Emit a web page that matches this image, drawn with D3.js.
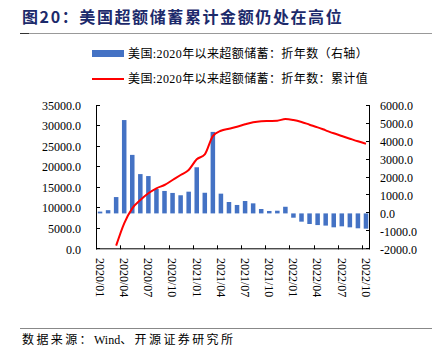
<!DOCTYPE html>
<html><head><meta charset="utf-8">
<script src="https://cdn.jsdelivr.net/npm/d3@7"></script>
<style>
body{margin:0;background:#fff;}
svg{display:block;}
</style></head>
<body><svg id="c" width="441" height="360"></svg>
<script>
const months = ["2020/01","2020/02","2020/03","2020/04","2020/05","2020/06","2020/07","2020/08","2020/09","2020/10","2020/11","2020/12",
"2021/01","2021/02","2021/03","2021/04","2021/05","2021/06","2021/07","2021/08","2021/09","2021/10","2021/11","2021/12",
"2022/01","2022/02","2022/03","2022/04","2022/05","2022/06","2022/07","2022/08","2022/09","2022/10"];
// 折年数 (right axis)
const barValues = [100,180,910,5200,3260,2190,2080,1360,1250,1140,1010,1210,
2570,1150,4540,1100,635,470,690,560,245,135,150,370,
-240,-460,-590,-650,-680,-775,-720,-775,-830,-850];
// 累计值 (left axis), null where not shown
const lineValues = [null,null,880,6340,9990,12000,13650,14870,15670,16890,18110,19330,
21930,23150,27610,28900,29400,29880,30460,30950,31200,31270,31340,31760,
31510,31030,30370,29730,29000,28270,27610,26960,26320,25740];
const leftTicks = [0,5000,10000,15000,20000,25000,30000,35000];
const rightTicks = [-2000,-1000,0,1000,2000,3000,4000,5000,6000];
const xLabels = months.filter((m,i)=>i%3===0);
const title = "图20：美国超额储蓄累计金额仍处在高位";
const legendBar = "美国:2020年以来超额储蓄：折年数（右轴）";
const legendLine = "美国:2020年以来超额储蓄：折年数：累计值";
const sourceParts = ["数据来源：", "Wind", "、开源证券研究所"];

const svg = d3.select("#c");
const serif = "'Liberation Serif','Noto Sans CJK SC',serif";
const L = 96, R = 370, T = 105.7, B = 249.3;

const x = d3.scaleBand().domain(months).range([L,R]).paddingInner(0.44).paddingOuter(0.22);
const yL = d3.scaleLinear().domain([0,35000]).range([B,T]);
const yR = d3.scaleLinear().domain([-2000,6000]).range([B,T]);
const step = x.step();

// title
svg.append("text").attr("x",22).attr("y",23).text(title)
  .attr("font-family","'Noto Sans CJK SC',sans-serif").attr("font-weight","bold")
  .attr("font-size",16).attr("fill","#1c2a6b").attr("letter-spacing",1.6);
svg.append("line").attr("x1",20).attr("x2",432).attr("y1",33.5).attr("y2",33.5).attr("stroke","#999").attr("stroke-width",1);
svg.append("line").attr("x1",20).attr("x2",29).attr("y1",33.5).attr("y2",33.5).attr("stroke","#333").attr("stroke-width",1);

// legend
svg.append("rect").attr("x",92).attr("y",50).attr("width",32).attr("height",7).attr("fill","#4472C4");
svg.append("text").attr("x",128).attr("y",58).text(legendBar)
  .attr("font-family",serif).attr("font-size",12).attr("fill","#000").attr("letter-spacing",0.4);
svg.append("line").attr("x1",92).attr("x2",124).attr("y1",79).attr("y2",79).attr("stroke","#ff0000").attr("stroke-width",2);
svg.append("text").attr("x",128).attr("y",83).text(legendLine)
  .attr("font-family",serif).attr("font-size",12).attr("fill","#000").attr("letter-spacing",0.4);

// bars
svg.append("g").selectAll("rect").data(months).join("rect")
  .attr("x",(d)=>x(d)).attr("width",x.bandwidth())
  .attr("y",(d,i)=>yR(Math.max(0,barValues[i])))
  .attr("height",(d,i)=>Math.abs(yR(barValues[i])-yR(0)))
  .attr("fill","#4472C4");

// line
const line = d3.line().defined(d=>d.v!==null).x(d=>x(d.m)+x.bandwidth()/2).y(d=>yL(d.v)).curve(d3.curveMonotoneX);
svg.append("path").datum(months.map((m,i)=>({m,v:lineValues[i]})))
  .attr("d",line).attr("fill","none").attr("stroke","#ff0000").attr("stroke-width",2).attr("stroke-linejoin","round");

// axes
const axG = svg.append("g").attr("stroke","#000").attr("stroke-width",1);
axG.append("line").attr("x1",L+0.5).attr("x2",L+0.5).attr("y1",T).attr("y2",B);
axG.append("line").attr("x1",R-0.5).attr("x2",R-0.5).attr("y1",T).attr("y2",B);
axG.append("line").attr("x1",L).attr("x2",R).attr("y1",B-0.5).attr("y2",B-0.5);
leftTicks.forEach(v=>{axG.append("line").attr("x1",L).attr("x2",L+4).attr("y1",Math.round(yL(v))-0.5).attr("y2",Math.round(yL(v))-0.5);});
rightTicks.forEach(v=>{axG.append("line").attr("x1",R-4).attr("x2",R).attr("y1",Math.round(yR(v))-0.5).attr("y2",Math.round(yR(v))-0.5);});
months.forEach((m,i)=>{ if(i%3===0){ const xx=Math.round(L+i*step)+0.5; axG.append("line").attr("x1",xx).attr("x2",xx).attr("y1",B-4).attr("y2",B);} });

const fmt = v=>v.toFixed(1);
svg.append("g").selectAll("text").data(leftTicks).join("text")
  .attr("x",81).attr("y",d=>yL(d)).attr("dy","0.35em").attr("text-anchor","end").text(fmt)
  .attr("font-family",serif).attr("font-size",12).attr("fill","#000");
svg.append("g").selectAll("text").data(rightTicks).join("text")
  .attr("x",380).attr("y",d=>yR(d)).attr("dy","0.35em").attr("text-anchor","start").text(fmt)
  .attr("font-family",serif).attr("font-size",12).attr("fill","#000");
svg.append("g").selectAll("text").data(xLabels).join("text")
  .attr("transform",d=>`translate(${x(d)+x.bandwidth()/2},258) rotate(90)`)
  .attr("dy","0.35em").attr("text-anchor","start").text(d=>d)
  .attr("font-family",serif).attr("font-size",12).attr("fill","#000");

// source
svg.append("line").attr("x1",20).attr("x2",432).attr("y1",328.5).attr("y2",328.5).attr("stroke","#888").attr("stroke-width",1);
const src = svg.append("text").attr("x",22).attr("y",344)
  .attr("font-family",serif).attr("font-size",12).attr("fill","#000");
src.selectAll("tspan").data(sourceParts).join("tspan").text(d=>d)
  .attr("letter-spacing",(d,i)=>i===1?0:2.4);
</script></body></html>
